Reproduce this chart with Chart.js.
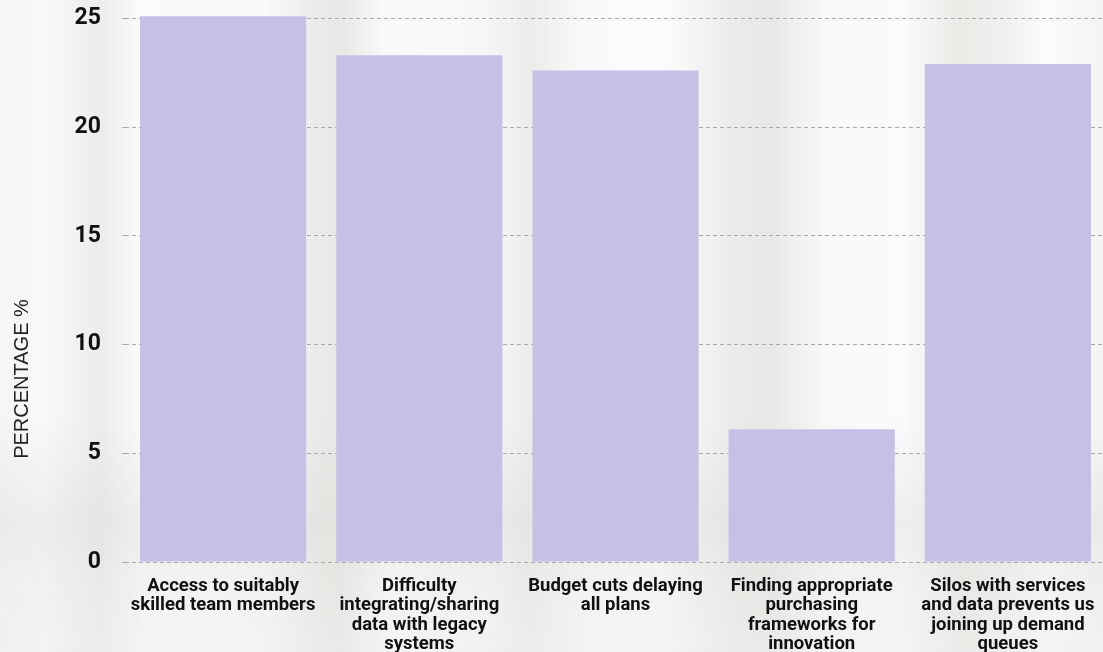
<!DOCTYPE html>
<html>
<head>
<meta charset="utf-8">
<script src="https://cdn.jsdelivr.net/npm/chart.js@4"></script>
<style>
  html, body { margin: 0; padding: 0; overflow: hidden; }
  body {
    width: 1103px; height: 652px;
    background:
      linear-gradient(180deg, rgba(255,255,255,0) 0%, rgba(255,255,255,0) 64%, rgba(215,215,212,0.35) 80%, rgba(228,228,226,0.35) 90%, rgba(236,236,234,0.45) 100%),
      linear-gradient(90deg,
        #f4f5f5 0%, #f8f9f9 4%, #ecedeb 9%, #fafbfb 13%, #f7f9fa 24%,
        #eaebe8 29%, #e8e9e6 31%, #f9fafb 35%, #f5f7f8 44%, #ecedea 48%,
        #f8fafb 53%, #fbfcfd 60%, #eaebe8 67%, #e8e9e6 70%, #f7f9fa 75%,
        #f9fbfc 82%, #eaebe7 87%, #f0f1ef 91%, #fafbfc 95%, #f3f4f4 100%);
  }
  #wrap { position: absolute; left: 0; top: 0; width: 1106px; height: 652px; }
</style>
</head>
<body>
<div id="wrap"><canvas id="chart"></canvas></div>
<script>
const categories = [
  ['Access to suitably', 'skilled team members'],
  ['Difficulty', 'integrating/sharing', 'data with legacy', 'systems'],
  ['Budget cuts delaying', 'all plans'],
  ['Finding appropriate', 'purchasing', 'frameworks for', 'innovation'],
  ['Silos with services', 'and data prevents us', 'joining up demand', 'queues']
];
const percentages = [25.1, 23.3, 22.6, 6.1, 22.9];
const yTicks = [0, 5, 10, 15, 20, 25];
const axisTitle = 'PERCENTAGE %';

// rotated y-axis caption, placed a little below the middle of the plot
const sideTitle = {
  id: 'sideTitle',
  afterDraw(chart) {
    const c = chart.ctx;
    c.save();
    c.translate(22, 379);
    c.rotate(-Math.PI / 2);
    c.font = '20px "Liberation Sans", Arial, sans-serif';
    c.fillStyle = '#222';
    c.textAlign = 'center';
    c.textBaseline = 'middle';
    c.fillText(axisTitle, 0, 0);
    c.restore();
  }
};

new Chart(document.getElementById('chart'), {
  type: 'bar',
  data: {
    labels: categories,
    datasets: [{
      data: percentages,
      backgroundColor: '#c7c0e6',
      borderWidth: 0,
      barPercentage: 0.847,
      categoryPercentage: 1
    }]
  },
  plugins: [sideTitle],
  options: {
    responsive: true,
    maintainAspectRatio: false,
    animation: false,
    layout: { padding: { top: 14, right: 0, bottom: 0, left: 0 } },
    plugins: {
      legend: { display: false },
      tooltip: { enabled: false }
    },
    scales: {
      x: {
        grid: { display: false },
        border: { display: false },
        ticks: {
          color: '#111',
          font: { family: 'Roboto', size: 18.5, weight: 'bold', lineHeight: 1.04 },
          padding: 7,
          maxRotation: 0,
          autoSkip: false
        },
        afterFit(s) { s.height = 90; }
      },
      y: {
        min: 0,
        max: 25.2,
        afterBuildTicks(s) { s.ticks = yTicks.map(v => ({ value: v })); },
        afterFit(s) {
          s.width = 125;
          // the wide label gap should not push the plot down
          s.paddingTop = 0;
          s.paddingBottom = 0;
        },
        border: { display: false, dash: [4, 3] },
        grid: {
          color: '#a9a9a9',
          tickLength: 3,
          lineWidth: 1
        },
        ticks: {
          color: '#111',
          font: { family: 'Roboto', size: 23, weight: 'bold' },
          padding: 21
        }
      }
    }
  }
});
</script>
</body>
</html>
